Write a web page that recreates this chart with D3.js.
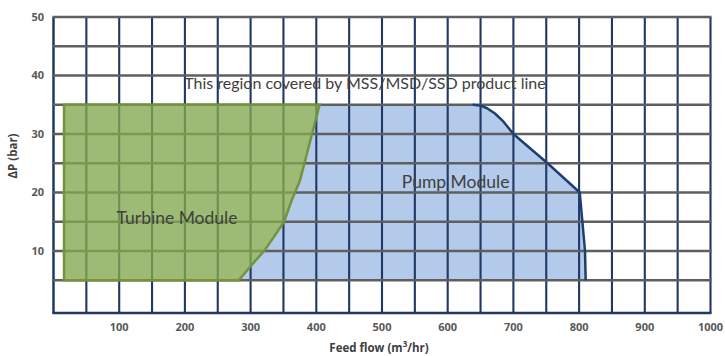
<!DOCTYPE html>
<html><head><meta charset="utf-8">
<script src="https://cdn.jsdelivr.net/npm/d3@7"></script>
<style>body{margin:0;background:#fff}svg{display:block}</style>
</head><body>
<div id="chart"></div>
<script>
// ---- data ----
const xTicks = [100,200,300,400,500,600,700,800,900,1000];
const yTicks = [10,20,30,40,50];
const xGrid = d3.range(0, 1001, 50);
const yGrid = d3.range(5, 51, 5);
// Turbine module envelope (flow m3/hr, dP bar)
const turbine = [[16,5],[16,35],[405,35],[375,22],[362,18.5],[351,15],[336,12.5],[322,10.2],[300,7.4],[282,5]];
// Pump module right-hand envelope (from top-left corner to bottom-right)
const pumpEdge = [[638,35],[650,34.85],[660,34.4],[672,33.5],[685,32.1],[700,30],[752,25],[801,20],[809,10],[810,5]];
const labels = [
  {text:"This region covered by MSS/MSD/SSD product line", x:474, y:37.7, size:16},
  {text:"Pump Module", x:612, y:20.8, size:17.5},
  {text:"Turbine Module", x:188, y:14.6, size:17.5}
];

const W=725,H=356;
const svg=d3.select("#chart").append("svg").attr("width",W).attr("height",H);
const x=d3.scaleLinear().domain([0,1000]).range([53.5,710.5]);
const y=d3.scaleLinear().domain([-0.6,50]).range([313,17]);
const line=d3.line().x(d=>x(d[0])).y(d=>y(d[1]));

// pump fill: green right edge (bottom->top) + pump edge
const greenEdge = turbine.slice(2).reverse(); // from (282,5) up to (405,35)
const pumpPoly = greenEdge.concat(pumpEdge);
svg.append("path").attr("d",line(pumpPoly)+"Z").attr("fill","#B3CAEA");

// vertical grid (navy)
svg.append("g").selectAll("line").data(xGrid).join("line")
  .attr("x1",d=>x(d)).attr("x2",d=>x(d)).attr("y1",y(50)).attr("y2",y(-0.6))
  .attr("stroke","#1F3864").attr("stroke-width",d=>d===0?2.5:2.1);
// horizontal grid (gray)
svg.append("g").selectAll("line").data(yGrid).join("line")
  .attr("x1",x(0)-1).attr("x2",x(1000)+1).attr("y1",d=>y(d)).attr("y2",d=>y(d))
  .attr("stroke","#5F5F5F").attr("stroke-width",2.3);
// bottom axis line
svg.append("line").attr("x1",x(0)-1.2).attr("x2",x(1000)+1).attr("y1",y(-0.6)).attr("y2",y(-0.6))
  .attr("stroke","#1F3864").attr("stroke-width",2.5);

// pump outline (right side)
svg.append("path").attr("d",line(pumpEdge)).attr("fill","none")
  .attr("stroke","#1F3F73").attr("stroke-width",2.5).attr("stroke-linejoin","round");

// turbine
svg.append("path").attr("d",line(turbine)+"Z").attr("fill","#82A84E").attr("fill-opacity",0.78)
  .attr("stroke","#76923C").attr("stroke-width",2.5);

// annotations
svg.append("g").selectAll("text").data(labels).join("text")
  .attr("x",d=>x(d.x)).attr("y",d=>y(d.y)).attr("text-anchor","middle")
  .attr("font-family","Lato, 'Open Sans', sans-serif").attr("font-size",d=>d.size)
  .attr("fill","#404040").text(d=>d.text);

// tick labels
const tf="'Open Sans', Lato, sans-serif";
svg.append("g").selectAll("text").data(xTicks).join("text")
  .attr("x",d=>x(d)).attr("y",331).attr("text-anchor","middle")
  .attr("font-family",tf).attr("font-weight","bold").attr("font-size",11).attr("fill","#595959").text(d=>d);
svg.append("g").selectAll("text").data(yTicks).join("text")
  .attr("x",44).attr("y",d=>y(d)+4).attr("text-anchor","end")
  .attr("font-family",tf).attr("font-weight","bold").attr("font-size",11).attr("fill","#595959").text(d=>d);

// axis titles
const xt=svg.append("text").attr("x",379).attr("y",352).attr("text-anchor","middle")
  .attr("font-family",tf).attr("font-weight","bold").attr("font-size",11.5).attr("fill","#404040");
xt.append("tspan").text("Feed flow (m");
xt.append("tspan").attr("dy",-5).attr("font-size",8).text("3");
xt.append("tspan").attr("dy",5).text("/hr)");
svg.append("text").attr("transform","translate(17,156) rotate(-90)").attr("text-anchor","middle")
  .attr("font-family",tf).attr("font-weight","bold").attr("font-size",11.5).attr("fill","#404040").text("ΔP (bar)");
</script>
</body></html>
